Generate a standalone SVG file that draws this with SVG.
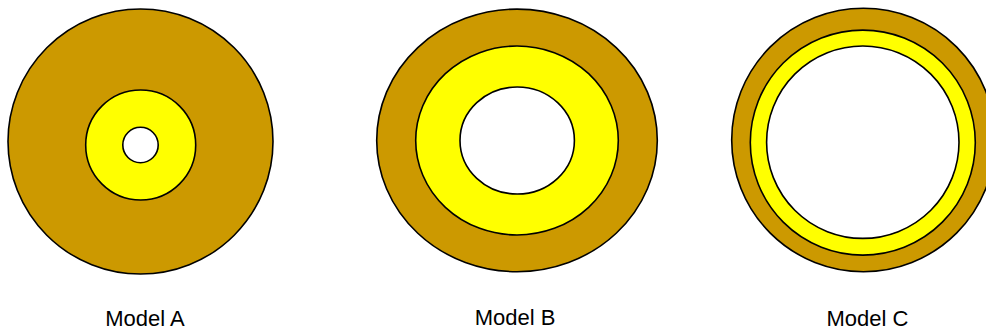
<svg xmlns="http://www.w3.org/2000/svg" width="986" height="331" viewBox="0 0 986 331">
<style>
.o{fill:#cc9900;stroke:#000;stroke-width:1.6}
.y{fill:#ffff00;stroke:#000;stroke-width:1.6}
.w{fill:#ffffff;stroke:#000;stroke-width:1.6}
.t{font-family:"Liberation Sans",Arial,sans-serif;font-size:22px;fill:#000;text-anchor:middle}
</style>
<rect width="986" height="331" fill="#fff"/>
<g id="modelA">
<circle class="o" cx="140.5" cy="141.5" r="132.5"/>
<circle class="y" cx="140.7" cy="145" r="55"/>
<circle class="w" cx="140.5" cy="145" r="17.7"/>
<text class="t" x="145" y="326.2">Model A</text>
</g>
<g id="modelB">
<ellipse class="o" cx="517" cy="140.4" rx="140.3" ry="131.3"/>
<ellipse class="y" cx="517" cy="140.5" rx="101.3" ry="94.5"/>
<ellipse class="w" cx="517.2" cy="140.5" rx="57.2" ry="53.5"/>
<text class="t" x="515" y="325">Model B</text>
</g>
<g id="modelC">
<circle class="o" cx="863.4" cy="140" r="131.7"/>
<circle class="y" cx="862.8" cy="142.6" r="112.5"/>
<circle class="w" cx="862.8" cy="142.2" r="96.2"/>
<text class="t" x="867.5" y="326">Model C</text>
</g>
<g id="connectors"/>
</svg>
